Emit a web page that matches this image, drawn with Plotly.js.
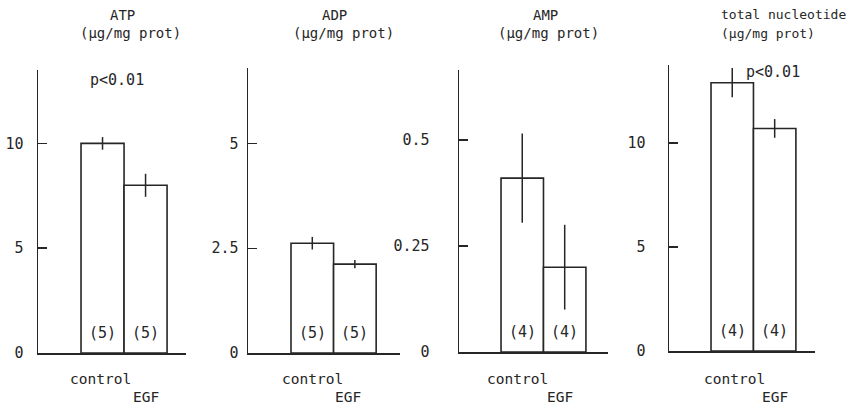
<!DOCTYPE html>
<html>
<head>
<meta charset="utf-8">
<script src="https://cdn.plot.ly/plotly-3.0.1.min.js"></script>
<style>html,body{margin:0;padding:0;background:#fff;}#chart{width:846px;height:405px;}</style>
</head>
<body>
<div id="chart"></div>
<script>
// ---- data ----
const categories = ["control", "EGF"];
const panelNames = ["ATP", "ADP", "AMP", "total nucleotide"];
const unitLabel = "(μg/mg prot)";
const atpValues = [10.0, 8.0];
const atpErrors = [0.3, 0.55];
const adpValues = [2.62, 2.12];
const adpErrors = [0.15, 0.1];
const ampValues = [0.41, 0.20];
const ampErrors = [0.105, 0.1];
const totalValues = [12.9, 10.7];
const totalErrors = [0.7, 0.45];
const sampleCounts = [[5, 5], [5, 5], [4, 4], [4, 4]];
const tickValsList = [[0, 5, 10], [0, 2.5, 5], [0, 0.25, 0.5], [0, 5, 10]];
const tickTextList = [["0", "5", "10"], ["0", "2.5", "5"], ["0", "0.25", "0.5"], ["0", "5", "10"]];
const pText = "p<0.01";

const values = [atpValues, adpValues, ampValues, totalValues];
const errors = [atpErrors, adpErrors, ampErrors, totalErrors];

// ---- geometry (pixels) ----
const W = 846, H = 405;
const geo = [
  {x0: 38, x1: 186, yTop: 70, yBot: 353, yMax: 13.5, xr: [-1.5, 1.94], standoff: 10, cShift: -2, eShift: 0},
  {x0: 248, x1: 400, yTop: 68, yBot: 353, yMax: 6.8, xr: [-1.51, 2.06], standoff: 5, cShift: 0, eShift: -7},
  {x0: 459, x1: 608, yTop: 70, yBot: 352, yMax: 0.665, xr: [-1.49, 2.02], standoff: 25, cShift: -5, eShift: -5},
  {x0: 669, x1: 815, yTop: 65, yBot: 351, yMax: 13.75, xr: [-1.49, 1.95], standoff: 19, cShift: 2, eShift: 0}
];
const ink = "#262626";
const FONT = "DejaVu Sans Mono, monospace";

const data = [];
const layout = {
  width: W, height: H,
  margin: {l: 0, r: 0, t: 0, b: 0},
  paper_bgcolor: "#fff", plot_bgcolor: "rgba(0,0,0,0)",
  showlegend: false, bargap: 0,
  font: {family: FONT, color: ink, size: 14},
  annotations: []
};

geo.forEach((g, i) => {
  const n = i + 1;
  const xa = "x" + (n === 1 ? "" : n), ya = "y" + (n === 1 ? "" : n);
  data.push({
    type: "bar", x: categories, y: values[i], width: 1,
    xaxis: xa, yaxis: ya,
    marker: {color: "#fff", line: {color: ink, width: 1.6}},
    error_y: {type: "data", array: errors[i], visible: true, color: ink, thickness: 1.5, width: 0},
    hoverinfo: "skip"
  });
  layout["xaxis" + (n === 1 ? "" : n)] = {
    domain: [g.x0 / W, g.x1 / W], anchor: ya, range: g.xr,
    showline: true, linecolor: ink, linewidth: 1.6, showgrid: false, zeroline: false,
    showticklabels: false, ticks: "", fixedrange: true
  };
  layout["yaxis" + (n === 1 ? "" : n)] = {
    domain: [1 - g.yBot / H, 1 - g.yTop / H], anchor: xa, range: [0, g.yMax],
    showline: true, linecolor: ink, linewidth: 1.4, showgrid: false, zeroline: false,
    ticks: "inside", ticklen: 9, tickwidth: 1.4, tickcolor: ink,
    tickvals: tickValsList[i], ticktext: tickTextList[i],
    ticklabelstandoff: g.standoff,
    tickfont: {family: FONT, size: 15, color: ink}, fixedrange: true
  };
  // counts inside bars
  categories.forEach((c, j) => {
    layout.annotations.push({
      xref: xa, yref: ya, x: c, y: 0, yanchor: "middle", yshift: 20,
      text: "(" + sampleCounts[i][j] + ")", showarrow: false,
      font: {family: FONT, size: 15, color: ink}
    });
  });
  // category labels below
  layout.annotations.push({
    xref: xa, yref: "paper", x: categories[0], y: 1 - 379 / H, yanchor: "middle", xshift: g.cShift,
    text: categories[0], showarrow: false, font: {family: FONT, size: 14.5, color: ink}
  });
  layout.annotations.push({
    xref: xa, yref: "paper", x: categories[1], y: 1 - 397 / H, yanchor: "middle", xshift: g.eShift,
    text: categories[1], showarrow: false, font: {family: FONT, size: 14.5, color: ink}
  });
});

// titles
const titlePos = [
  {l1: 122, l2: 130, anchor: "center", size: 14},
  {l1: 334, l2: 343, anchor: "center", size: 14},
  {l1: 545, l2: 548, anchor: "center", size: 14},
  {l1: 719, l2: 719, anchor: "left", size: 13}
];
titlePos.forEach((t, i) => {
  layout.annotations.push({
    xref: "paper", yref: "paper", x: t.l1 / W, y: 1 - 15 / H, xanchor: t.anchor, yanchor: "middle",
    text: panelNames[i], showarrow: false, font: {family: FONT, size: t.size, color: ink}
  });
  layout.annotations.push({
    xref: "paper", yref: "paper", x: t.l2 / W, y: 1 - 33 / H, xanchor: t.anchor, yanchor: "middle",
    text: unitLabel, showarrow: false, font: {family: FONT, size: t.size, color: ink}
  });
});
// p-values
layout.annotations.push({
  xref: "paper", yref: "paper", x: 117 / W, y: 1 - 80 / H, xanchor: "center", yanchor: "middle",
  text: pText.replace("<", "&lt;"), showarrow: false, font: {family: FONT, size: 15, color: ink}
});
layout.annotations.push({
  xref: "paper", yref: "paper", x: 773 / W, y: 1 - 72 / H, xanchor: "center", yanchor: "middle",
  text: pText.replace("<", "&lt;"), showarrow: false, font: {family: FONT, size: 15, color: ink}
});

Plotly.newPlot("chart", data, layout, {staticPlot: true, displayModeBar: false});
</script>
</body>
</html>
